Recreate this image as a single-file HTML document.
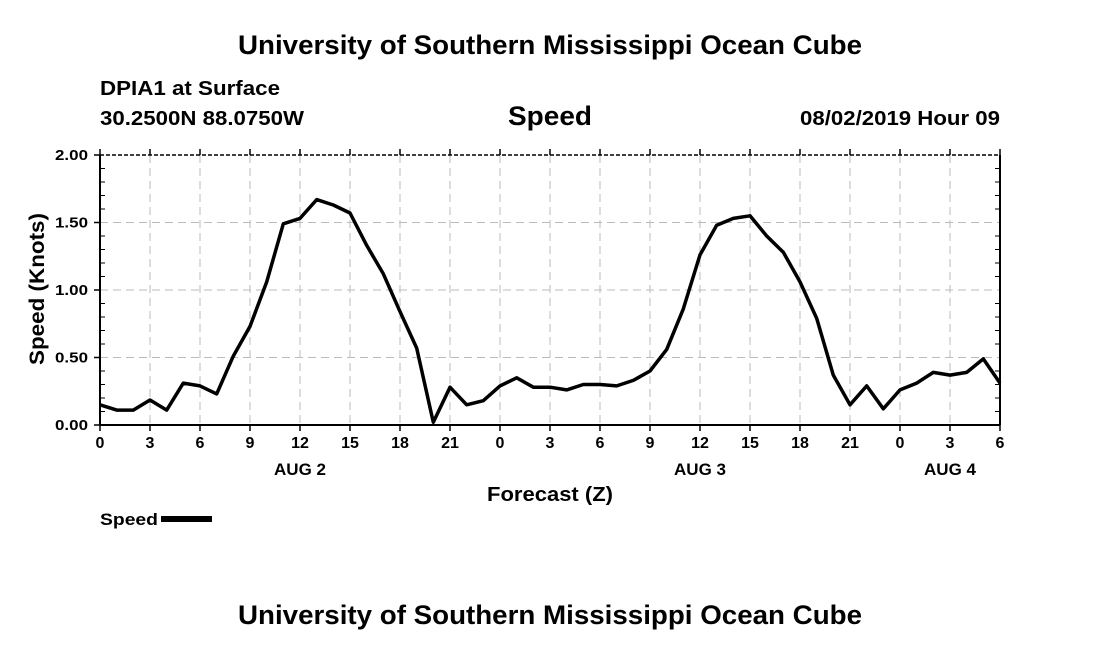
<!DOCTYPE html>
<html><head><meta charset="utf-8"><style>
html,body{margin:0;padding:0;background:#fff;}
svg{display:block;font-family:"Liberation Sans",Arial,sans-serif;}
</style></head><body>
<svg id="chart" width="1100" height="650" viewBox="0 0 1100 650">
<text x="550" y="54" text-anchor="middle" font-size="27" font-weight="bold" textLength="624" lengthAdjust="spacingAndGlyphs">University of Southern Mississippi Ocean Cube</text>
<text x="100" y="95" font-size="20" font-weight="bold" textLength="180" lengthAdjust="spacingAndGlyphs">DPIA1 at Surface</text>
<text x="100" y="125" font-size="20" font-weight="bold" textLength="204" lengthAdjust="spacingAndGlyphs">30.2500N 88.0750W</text>
<text x="550" y="125" text-anchor="middle" font-size="27" font-weight="bold" textLength="84" lengthAdjust="spacingAndGlyphs">Speed</text>
<text x="1000" y="125" text-anchor="end" font-size="20" font-weight="bold" textLength="200" lengthAdjust="spacingAndGlyphs">08/02/2019 Hour 09</text>
<g id="grid"></g>
<g id="axes"></g>
<g id="series"></g>
<text transform="translate(44,289) rotate(-90)" text-anchor="middle" font-size="21" font-weight="bold" textLength="152" lengthAdjust="spacingAndGlyphs">Speed (Knots)</text>
<text x="550" y="501" text-anchor="middle" font-size="20" font-weight="bold" textLength="126" lengthAdjust="spacingAndGlyphs">Forecast (Z)</text>
<g>
<text x="100" y="525" font-size="17" font-weight="bold" textLength="58" lengthAdjust="spacingAndGlyphs">Speed</text>
<rect x="161" y="516" width="51" height="6" fill="#000"></rect>
</g>
<text x="550" y="624" text-anchor="middle" font-size="27" font-weight="bold" textLength="624" lengthAdjust="spacingAndGlyphs">University of Southern Mississippi Ocean Cube</text>
</svg>
<script>
const hours = [0,1,2,3,4,5,6,7,8,9,10,11,12,13,14,15,16,17,18,19,20,21,22,23,24,25,26,27,28,29,30,31,32,33,34,35,36,37,38,39,40,41,42,43,44,45,46,47,48,49,50,51,52,53,54];
const speed = [0.15,0.11,0.11,0.185,0.11,0.31,0.29,0.23,0.51,0.73,1.06,1.49,1.53,1.67,1.63,1.57,1.33,1.12,0.84,0.57,0.02,0.28,0.15,0.18,0.29,0.35,0.28,0.28,0.26,0.30,0.30,0.29,0.33,0.40,0.56,0.86,1.26,1.48,1.53,1.55,1.40,1.28,1.06,0.79,0.37,0.15,0.29,0.12,0.26,0.31,0.39,0.37,0.39,0.49,0.31];
const yTicks = [0,0.5,1,1.5,2];
const yTickLabels = ["0.00","0.50","1.00","1.50","2.00"];
const xTickHours = [0,3,6,9,12,15,18,21,24,27,30,33,36,39,42,45,48,51,54];
const xTickLabels = ["0","3","6","9","12","15","18","21","0","3","6","9","12","15","18","21","0","3","6"];
const dayLabels = ["AUG 2","AUG 3","AUG 4"];
const dayHours = [12,36,51];

const L=100,R=1000,T=155,B=425,XMAX=54,YMAX=2;
const NS="http://www.w3.org/2000/svg";
const xs=h=>L+(R-L)*h/XMAX;
const ys=v=>B-(B-T)*v/YMAX;
function mk(tag,attrs,parent){const e=document.createElementNS(NS,tag);for(const k in attrs)e.setAttribute(k,attrs[k]);parent.appendChild(e);return e;}
const gridG=document.getElementById('grid'),axesG=document.getElementById('axes'),seriesG=document.getElementById('series');

yTicks.forEach((v,i)=>{
  if(v>0&&v<YMAX){const g=mk('line',{x1:L,x2:R,y1:ys(v),y2:ys(v),stroke:'#bbb','stroke-width':1,'stroke-dasharray':'8,5'},gridG);
  
  }
  const t=mk('text',{x:L-12,y:ys(v)+5,'text-anchor':'end','font-size':15,'font-weight':'bold',textLength:33,lengthAdjust:'spacingAndGlyphs'},axesG);
  t.textContent=yTickLabels[i];
  
  
  const tk=mk('line',{x1:L-6,x2:L,y1:ys(v),y2:ys(v),stroke:'#000','stroke-width':1.5},axesG);
  
  
});
for(let m=0;m<=20;m++){const v=m*0.1;if(m%5===0)continue;
  const tk=mk('line',{x1:L,x2:L+5,y1:ys(v),y2:ys(v),stroke:'#000','stroke-width':1},axesG);
  
  
  const tk2=mk('line',{x1:R-5,x2:R,y1:ys(v),y2:ys(v),stroke:'#000','stroke-width':1},axesG);
  
  
}
xTickHours.forEach((h,i)=>{
  if(h>0&&h<XMAX){const g=mk('line',{x1:xs(h),x2:xs(h),y1:T,y2:B,stroke:'#bbb','stroke-width':1,'stroke-dasharray':'8,5'},gridG);
  
  }
  const tk=mk('line',{x1:xs(h),x2:xs(h),y1:B,y2:B+6,stroke:'#000','stroke-width':1.5},axesG);
  
  
  const tk2=mk('line',{x1:xs(h),x2:xs(h),y1:T-6,y2:T,stroke:'#000','stroke-width':1.5},axesG);
  
  
  const t=mk('text',{x:xs(h),y:B+23,'text-anchor':'middle','font-size':16,'font-weight':'bold'},axesG);
  t.textContent=xTickLabels[i];
  
  
});
dayHours.forEach((h,i)=>{
  const t=mk('text',{x:xs(h),y:475,'text-anchor':'middle','font-size':17,'font-weight':'bold'},axesG);
  t.textContent=dayLabels[i];
  
  
});
const topBorder=mk('line',{x1:L,x2:R,y1:T,y2:T,stroke:'#000','stroke-width':1.5,'stroke-dasharray':'4,2'},axesG);


const lf=mk('line',{x1:L,x2:L,y1:T,y2:B,stroke:'#000','stroke-width':2},axesG);


const bt=mk('line',{x1:L,x2:R,y1:B,y2:B,stroke:'#000','stroke-width':2},axesG);


const rt=mk('line',{x1:R,x2:R,y1:T,y2:B,stroke:'#000','stroke-width':2},axesG);



const pts=hours.map((h,i)=>xs(h).toFixed(1)+','+ys(speed[i]).toFixed(1)).join(' ');
const pl=mk('polyline',{points:pts,fill:'none',stroke:'#000','stroke-width':3.5,'stroke-linejoin':'round'},seriesG);


</script>
</body></html>
